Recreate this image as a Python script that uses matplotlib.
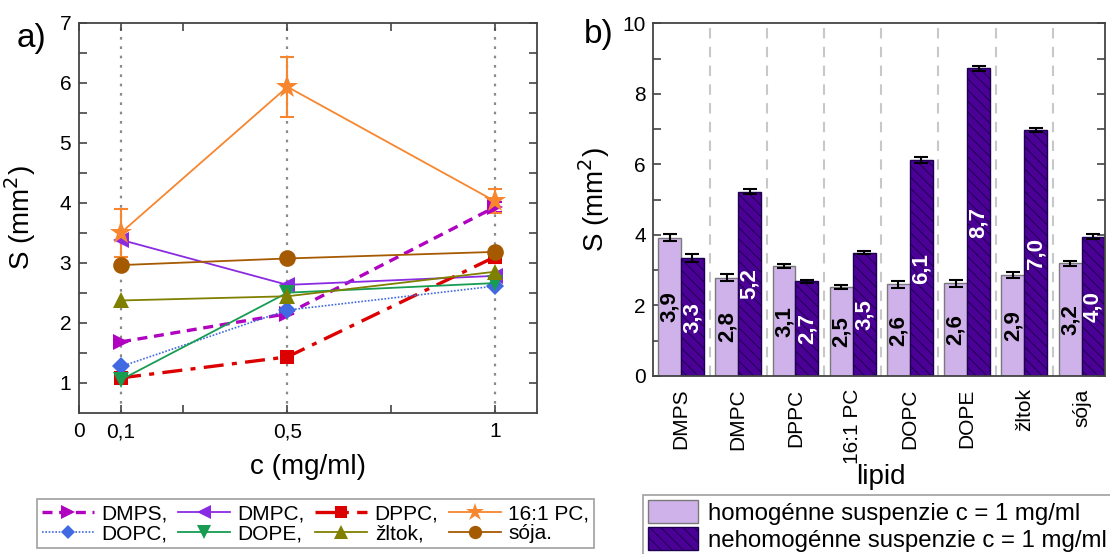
import matplotlib

matplotlib.use("Agg")

import matplotlib.pyplot as plt
import numpy as np

plt.rcParams["font.family"] = ["Liberation Sans", "DejaVu Sans"]
plt.rcParams["hatch.linewidth"] = 0.7
plt.rcParams["hatch.color"] = "#1e0050"

# panel a data
concentrations = [0.1, 0.5, 1.0]
series_names = ["DMPS,", "DMPC,", "DPPC,", "16:1 PC,", "DOPC,", "DOPE,", "žltok,", "sója."]
dmps = [1.68, 2.15, 3.93]
dmpc = [3.38, 2.63, 2.78]
dppc = [1.08, 1.43, 3.10]
pc161 = [3.50, 5.93, 4.02]
dopc = [1.27, 2.21, 2.61]
dope = [1.05, 2.50, 2.66]
zltok = [2.37, 2.44, 2.85]
soja = [2.96, 3.07, 3.18]
pc161_err = [0.40, 0.50, 0.20]
dppc_err = [0.0, 0.0, 0.10]
dmps_err = [0.0, 0.0, 0.08]

# panel b data
lipids = ["DMPS", "DMPC", "DPPC", "16:1 PC", "DOPC", "DOPE", "žltok", "sója"]
homog = [3.92, 2.78, 3.11, 2.52, 2.60, 2.63, 2.87, 3.19]
homog_err = [0.10, 0.10, 0.06, 0.05, 0.10, 0.10, 0.09, 0.07]
homog_labels = ["3,9", "2,8", "3,1", "2,5", "2,6", "2,6", "2,9", "3,2"]
nehomog = [3.34, 5.22, 2.69, 3.50, 6.12, 8.73, 6.97, 3.95]
nehomog_err = [0.11, 0.07, 0.04, 0.05, 0.09, 0.07, 0.06, 0.07]
nehomog_labels = ["3,3", "5,2", "2,7", "3,5", "6,1", "8,7", "7,0", "4,0"]

styles = [
    (dmps, dmps_err, "#B000C0", (0, (3, 2)), 2.4, ">", 12),
    (dmpc, None, "#8A2BE2", "-", 1.3, "<", 12),
    (dppc, dppc_err, "#DD0000", (0, (6, 2.5, 1.5, 2.5)), 2.4, "s", 10.5),
    (pc161, pc161_err, "#F7862F", "-", 1.3, "*", 17),
    (dopc, None, "#4169E1", (0, (1, 1)), 1.2, "D", 9.5),
    (dope, None, "#179C52", "-", 1.3, "v", 12),
    (zltok, None, "#808000", "-", 1.3, "^", 12),
    (soja, None, "#A65A00", "-", 1.3, "o", 12),
]

fig = plt.figure(figsize=(11.1, 5.54), dpi=100)

# ---------------- panel a ----------------
ax = fig.add_axes([0.0716, 0.2551, 0.4122, 0.704])
for xv in concentrations:
    ax.axvline(xv, color="#8a8a8a", linestyle=(0, (1.2, 3)), linewidth=1.6, zorder=0)

handles = []
for (vals, err, color, ls, lw, marker, ms), name in zip(styles, series_names):
    if err is not None:
        ax.errorbar(concentrations, vals, yerr=err, fmt="none", ecolor=color, elinewidth=1.5,
                    capsize=5, capthick=1.5, zorder=2)
    (line,) = ax.plot(concentrations, vals, color=color, linestyle=ls, linewidth=lw, marker=marker,
                      markersize=ms, markeredgewidth=0, zorder=3, label=name)
    handles.append(line)

ax.set_xlim(0, 1.1)
ax.set_ylim(0.5, 7)
ax.set_xticks([0, 0.1, 0.5, 1.0])
ax.set_xticklabels(["0", "0,1", "0,5", "1"])
ax.set_xticks([0.25, 0.75], minor=True)
ax.set_yticks([1, 2, 3, 4, 5, 6, 7])
ax.set_yticks(np.arange(1.5, 7, 1.0), minor=True)
ax.tick_params(which="both", direction="in", top=True, right=True, length=6, width=1.2, color="#444444")
ax.tick_params(axis="both", labelsize=15)
ax.tick_params(axis="x", pad=7)
ax.tick_params(axis="y", pad=6)
for sp in ax.spines.values():
    sp.set_linewidth(1.3)
    sp.set_color("#444444")
ax.set_xlabel("c (mg/ml)", fontsize=20)
ax.set_ylabel("S (mm$^2$)", fontsize=20)
ax.xaxis.set_label_coords(0.5, -0.105)
ax.yaxis.set_label_coords(-0.09, 0.5)
fig.text(0.0288, 0.931, "a)", fontsize=24, ha="center", va="center")

order = [0, 4, 1, 5, 2, 6, 3, 7]
leg_a = fig.legend([handles[i] for i in order], [series_names[i] for i in order], ncol=4,
                   loc="upper left", bbox_to_anchor=(0.0333, 0.0993), fontsize=15, frameon=True,
                   fancybox=False, edgecolor="#888888", handlelength=2.5, handletextpad=0.35,
                   columnspacing=0.5, labelspacing=0.05, borderpad=0.25, borderaxespad=0,
                   markerscale=0.8)
leg_a.get_frame().set_linewidth(1.2)

# ---------------- panel b ----------------
bx = fig.add_axes([0.588, 0.3213, 0.4075, 0.6366])
pos = np.arange(len(lipids))
w = 0.4
for p in pos[:-1]:
    bx.axvline(p + 0.5, color="#c8c8c8", linestyle=(0, (5, 4)), linewidth=1.5, zorder=0)

b1 = bx.bar(pos - w / 2, homog, width=w, color="#D0B2EA", edgecolor="#7a7a7a", linewidth=1.0,
            label="homogénne suspenzie c = 1 mg/ml", zorder=2)
b2 = bx.bar(pos + w / 2, nehomog, width=w, color="#4B0096", edgecolor="#1e0050", linewidth=1.0,
            hatch="\\\\\\", label="nehomogénne suspenzie c = 1 mg/ml", zorder=2)
bx.errorbar(pos - w / 2, homog, yerr=homog_err, fmt="none", ecolor="black", elinewidth=1.5,
            capsize=5, capthick=1.5, zorder=3)
bx.errorbar(pos + w / 2, nehomog, yerr=nehomog_err, fmt="none", ecolor="black", elinewidth=1.5,
            capsize=5, capthick=1.5, zorder=3)

for p, v, lab in zip(pos, homog, homog_labels):
    bx.text(p - w / 2, v / 2, lab, rotation=90, ha="center", va="center", fontsize=16,
            fontweight="bold", color="black", zorder=4)
for p, v, lab in zip(pos, nehomog, nehomog_labels):
    bx.text(p + w / 2, v / 2, lab, rotation=90, ha="center", va="center", fontsize=16,
            fontweight="bold", color="white", zorder=4)

bx.set_xlim(-0.495, 7.41)
bx.set_ylim(0, 10)
bx.set_xticks(pos)
bx.set_xticklabels(lipids, rotation=90, fontsize=15)
bx.set_yticks([0, 2, 4, 6, 8, 10])
bx.set_yticks([1, 3, 5, 7, 9], minor=True)
bx.tick_params(axis="y", which="both", direction="in", left=True, right=True, length=6, width=1.2,
               color="#444444", labelsize=15, pad=5)
bx.tick_params(axis="x", length=0, pad=9)
for sp in bx.spines.values():
    sp.set_linewidth(1.3)
    sp.set_color("#444444")
bx.set_xlabel("lipid", fontsize=20)
bx.set_ylabel("S (mm$^2$)", fontsize=20)
bx.xaxis.set_label_coords(0.505, -0.25)
bx.yaxis.set_label_coords(-0.09, 0.5)
fig.text(0.539, 0.937, "b)", fontsize=24, ha="center", va="center")

leg_b = fig.legend([b1, b2], [b1.get_label(), b2.get_label()], loc="upper left",
                   bbox_to_anchor=(0.5793, 0.1065), fontsize=17.3, frameon=True, fancybox=False,
                   edgecolor="#888888", handlelength=2.1, handleheight=1.12, handletextpad=0.4,
                   labelspacing=0.1, borderpad=0.2, borderaxespad=0)
leg_b.get_frame().set_linewidth(1.2)

fig.savefig("out.png", dpi=100)
